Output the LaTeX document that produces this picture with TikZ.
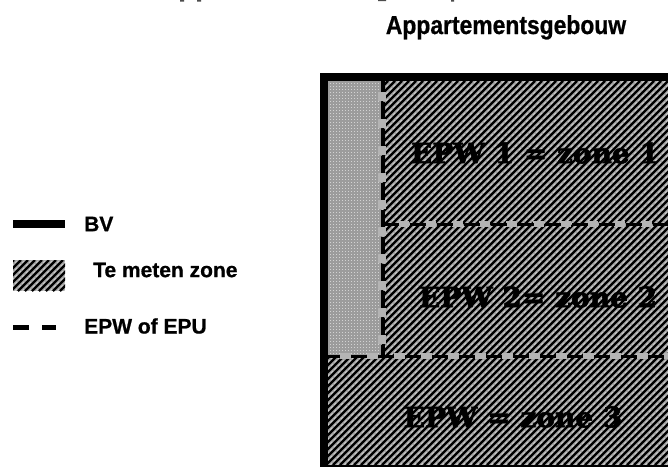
\documentclass[tikz,border=0pt]{standalone}
\usepackage{fontspec}
\setmainfont{Liberation Sans}[BoldFeatures={FakeBold=0.8}]
\newfontfamily\zonefont{DejaVu Serif Bold}[FakeBold=2]
\definecolor{hatchgrey}{HTML}{A2A2A2}
\definecolor{panelgrey}{HTML}{9C9C9C}
\definecolor{gapgrey}{HTML}{B4B4B4}
\tikzset{
  hatchline/.style={black,line width=2.3pt},
  hatchlight/.style={white,opacity=.45,line width=.8pt,dash pattern=on 3pt off 2pt},
  dotrow/.style={white,opacity=.55,line width=1pt,dash pattern=on 1pt off 2pt},
  legendtext/.style={anchor=west,inner sep=0pt,font=\bfseries\fontsize{21}{23}\selectfont},
  zonetext/.style={inner sep=0pt,text=black,font=\zonefont\fontsize{28}{30}\selectfont},
  epwdash/.style={black,line width=4pt,dash pattern=on 17pt off 10pt},
  epwline/.style={black,line width=3pt,dash pattern=on 16pt off 11pt},
  epwgap/.style={gapgrey,line width=6pt,dash pattern=on 11pt off 16pt},
}
\newcommand{\hatchfill}[4]{%
  \begin{scope}
    \clip (#1,#2) rectangle (#3,#4);
    \fill[hatchgrey] (#1,#2) rectangle (#3,#4);
    \foreach \k in {-500,-493,...,700}{
      \draw[hatchline] (\k,#4) -- ++(#4-#2,#2-#4);
    }
    \foreach \k in {-496,-489,...,700}{
      \draw[hatchlight] (\k,#4) -- ++(#4-#2,#2-#4);
    }
  \end{scope}}
\begin{document}
\begin{tikzpicture}[x=1pt,y=-1pt]
\useasboundingbox (0,0) rectangle (668,467);
\fill[white] (0,0) rectangle (668,467);
% clipped line of text at the very top
\fill[black!70] (180,0) rectangle (184,1.5) (197,0) rectangle (201,1.5) (378,0) rectangle (386,1) (451,0) rectangle (454,1.5);
% title
\node[inner sep=0pt,font=\bfseries\fontsize{26}{28}\selectfont,anchor=base,xscale=.88] (title) at (506,34) {Appartementsgebouw};
% building
\hatchfill{327}{81}{668}{465}
\begin{scope}
  \clip (327,81) rectangle (381,355);
  \fill[panelgrey] (327,81) rectangle (381,355);
  \foreach \r in {83,86,...,355}{\draw[dotrow] (327,\r) -- (381,\r);}
\end{scope}
% zone labels
\node[zonetext] (z1) at (535,153) {EPW 1 = zone 1};
\node[zonetext] (z2) at (538,297) {EPW 2= zone 2};
\node[zonetext] (z3) at (513,417) {EPW = zone 3};
% EPW boundaries
\draw[epwgap,line width=8pt,dash pattern=on 9pt off 18pt] (382,92) -- (382,355);
\draw[epwgap] (398,224) -- (668,224);
\draw[epwgap] (340,356) -- (668,356);
\draw[epwdash] (382.5,75) -- (382.5,355);
\draw[epwline] (383,224) -- (668,224);
\draw[epwline] (324,356) -- (668,356);
% outer wall
\draw[black,line width=8pt] (668,77) -- (324,77) -- (324,467);
\draw[black,line width=2.5pt] (320,465.8) -- (668,465.8);
% legend
\draw[black,line width=7.5pt] (13,224) -- (65,224);
\hatchfill{13}{260}{65}{291}
\draw[black,line width=5pt] (13,327.5) -- (29,327.5) (42,327.5) -- (56,327.5);
\node[legendtext] (bv) at (84,224) {BV};
\node[legendtext] (tm) at (93,270) {Te meten zone};
\node[legendtext] (epw) at (84,326) {EPW of EPU};
\end{tikzpicture}
\end{document}
